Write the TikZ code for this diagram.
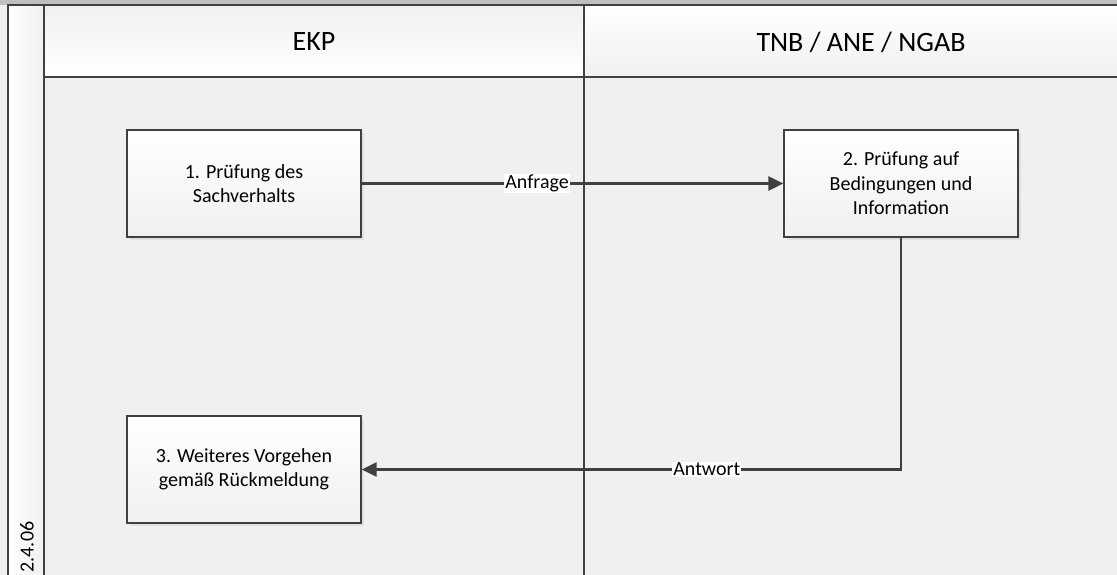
\documentclass[tikz,border=0pt]{standalone}
\usepackage{fontspec}
\setmainfont{Carlito}
\usetikzlibrary{arrows.meta,shadows}

\definecolor{poolbg}{HTML}{F0F0F0}
\definecolor{poolline}{HTML}{404040}
\definecolor{topstrip}{HTML}{BFBFBF}

\tikzset{
  lanerule/.style={draw=poolline, line width=2.4pt},
  task/.style={draw=poolline, line width=1.3pt, top color=white, bottom color=poolbg,
    minimum width=234pt, minimum height=107pt, align=center,
    font=\fontsize{20}{24.5}\selectfont,
    drop shadow={shadow xshift=3pt, shadow yshift=-3pt, fill=black!12, opacity=1}},
  flow/.style={draw=poolline, line width=2.5pt, -{Triangle[length=15pt,width=14pt]}},
  flowlabel/.style={fill=white, inner sep=1pt, font=\fontsize{20}{22}\selectfont},
  lanetitle/.style={font=\fontsize{28}{30}\selectfont}
}

\begin{document}
\begin{tikzpicture}[x=1pt,y=-1pt]
  \useasboundingbox (0,0) rectangle (1117,575);
  % background and pool
  \fill[topstrip] (0,0) rectangle (1117,5);
  \fill[poolbg] (0,5) rectangle (1117,575);
  \shade[left color=white, right color=poolbg] (8,5) rectangle (44,575);
  \shade[top color=poolbg, bottom color=white] (44,5) rectangle (584,77);
  \shade[top color=white, bottom color=poolbg] (584,5) rectangle (1117,77);

  \draw[lanerule] (8,575) -- (8,5) -- (1117,5);
  \draw[lanerule] (44,5) -- (44,575);
  \draw[lanerule] (44,77) -- (1117,77);
  \draw[lanerule] (584,5) -- (584,77);
  \draw[draw=poolline, line width=2pt] (584,77) -- (584,575);

  \node[lanetitle] (ekp) at (314,42) {EKP};
  \node[lanetitle] (tnb) at (861,42) {TNB / ANE / NGAB};
  \node[rotate=90, font=\fontsize{20}{22}\selectfont] (version) at (27,547) {2.4.06};

  % tasks
  \node[task] (pruefung) at (244,183.5) {1. Prüfung des\\Sachverhalts};
  \node[task] (bedingung) at (901,183.5) {2. Prüfung auf\\Bedingungen und\\Information};
  \node[task] (vorgehen) at (244,469.5) {3. Weiteres Vorgehen\\gemäß Rückmeldung};

  % message flows
  \draw[flow] (pruefung) -- node[flowlabel, pos=0.416] {Anfrage} (bedingung);
  \draw[flow] (bedingung.south) |- node[flowlabel, pos=0.68] {Antwort} (vorgehen.east);
\end{tikzpicture}
\end{document}
